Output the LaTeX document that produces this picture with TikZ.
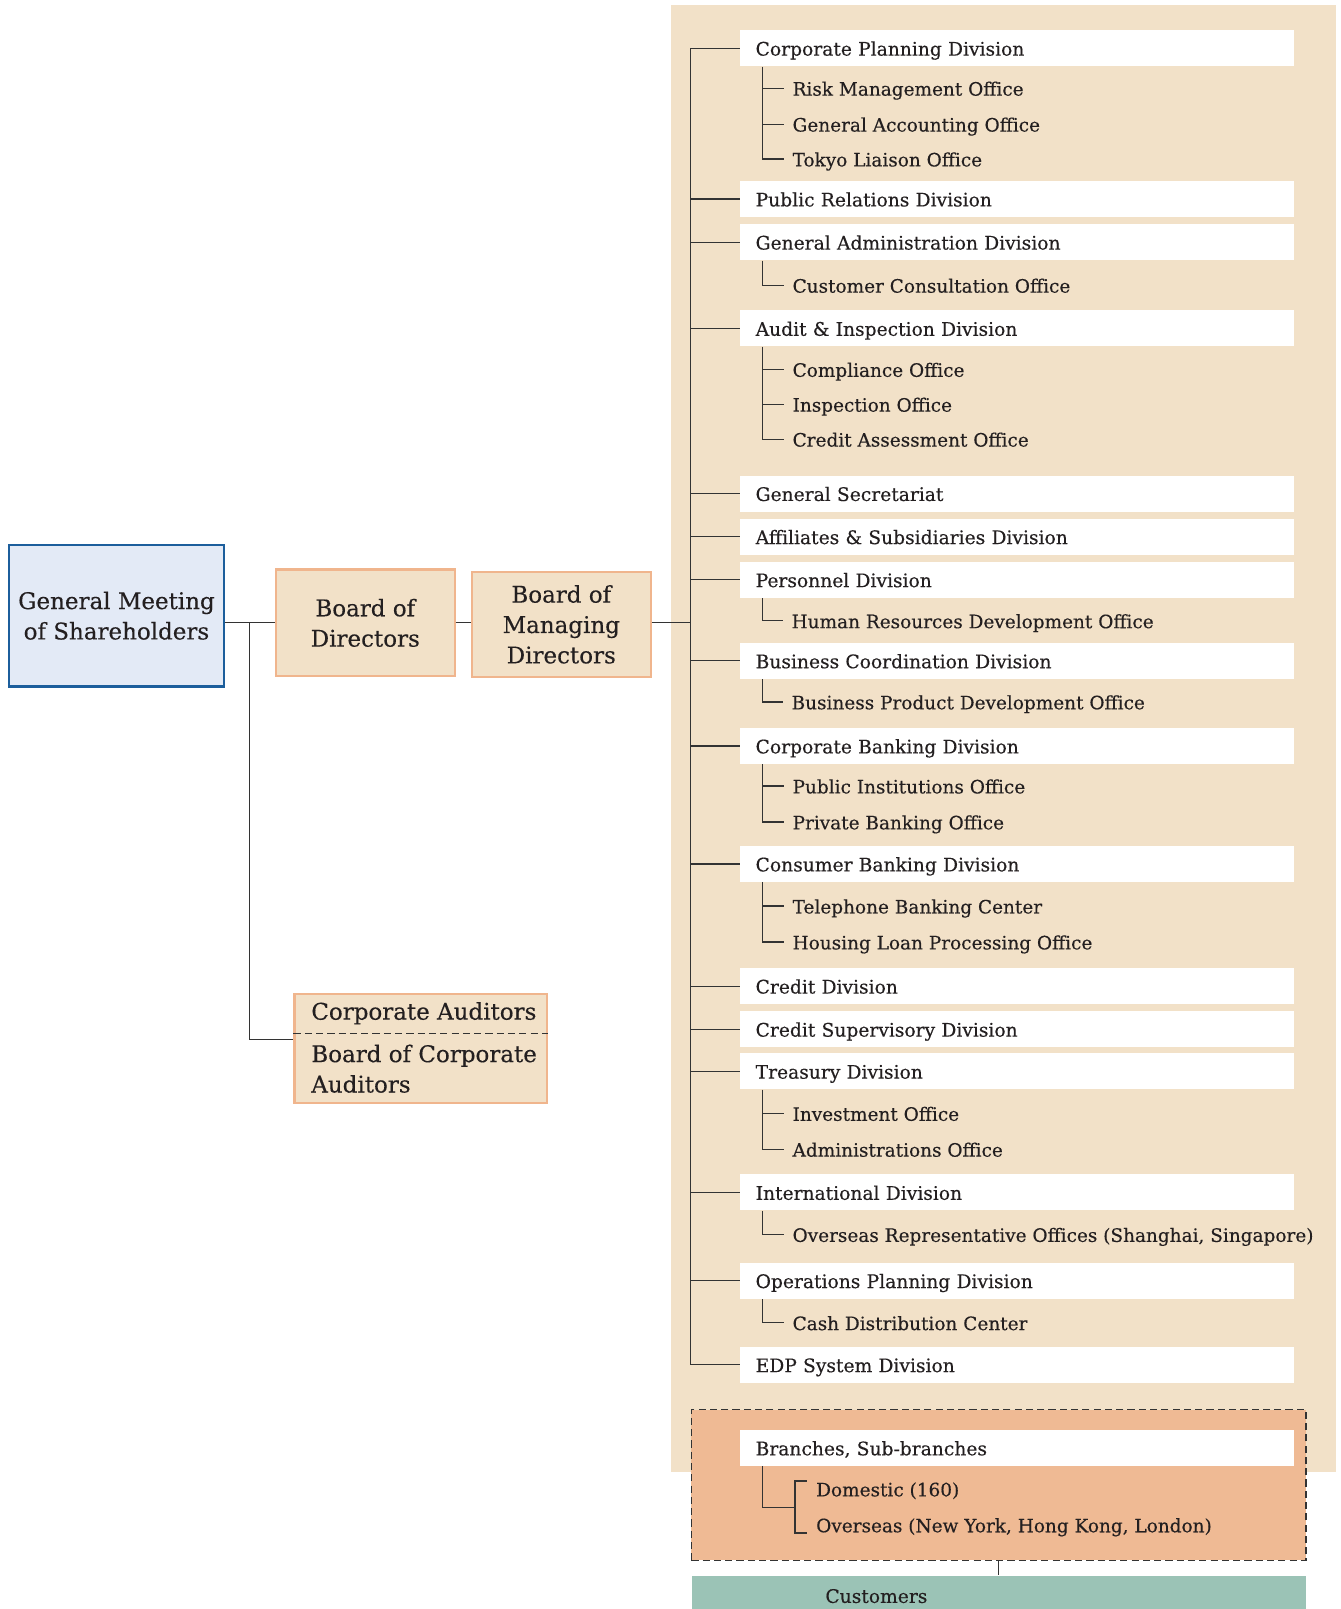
\documentclass[tikz,border=0pt]{standalone}
\usepackage{fontspec}
\setmainfont{DejaVu Serif}[FakeBold=0.3]
\newcommand\dsz{\fontsize{9.1pt}{11pt}\selectfont}
\newcommand\ssz{\fontsize{9.0pt}{11pt}\selectfont}
\newcommand\bsz{\fontsize{11.2pt}{14.8pt}\selectfont}
\definecolor{beige}{HTML}{F2E1C8}
\definecolor{salm}{HTML}{F0B58D}
\definecolor{orng}{HTML}{EFBA94}
\definecolor{gmfill}{HTML}{E3EAF6}
\definecolor{gmline}{HTML}{1C5E9C}
\definecolor{teal}{HTML}{9BC3B6}
\definecolor{ln}{HTML}{333333}
\definecolor{txt}{HTML}{231F20}
\tikzset{
  div/.style={anchor=west, fill=white, minimum height=17.5pt, text width=255pt,
    inner xsep=7.5pt, inner ysep=0pt, align=left, font=\dsz, text=txt,
    text height=0.86em, text depth=0.14em},
  sub/.style={anchor=west, inner xsep=4pt, inner ysep=1pt, font=\ssz, text=txt,
    text height=0.86em, text depth=0.14em},
  bigbox/.style={draw=salm, line width=1pt, fill=beige, font=\bsz, text=txt, align=center},
  conn/.style={draw=ln, line width=0.6pt},
}
\begin{document}
\begin{tikzpicture}[x=0.5pt,y=-0.5pt]
\useasboundingbox (0,0) rectangle (1306,1568);
% background panel
\fill[beige] (654,5) rectangle (1302,1434);

% left boxes
\node[draw=gmline, line width=1pt, fill=gmfill, minimum width=104.5pt, minimum height=69pt,
  font=\bsz, text=txt, align=center, inner sep=0pt] (gm) at (113.5,600) {General Meeting\\of Shareholders};
\node[bigbox, minimum width=87pt, minimum height=52pt, inner sep=0pt] (bod) at (356,607) {Board of\\Directors};
\node[bigbox, minimum width=87pt, minimum height=51.5pt, inner sep=0pt] (bmd) at (547,608.5) {Board of\\Managing\\Directors};
\node[bigbox, minimum width=123pt, minimum height=53pt, inner sep=0pt] (aud) at (410,1022) {};
\draw[ln, line width=0.5pt, dash pattern=on 3.5pt off 2pt] ([yshift=7.5pt]aud.west) -- ([yshift=7.5pt]aud.east);
\node[anchor=west, font=\bsz, text=txt, inner sep=0pt] (audA) at (303,987.5) {Corporate Auditors};
\node[anchor=west, font=\bsz, text=txt, inner sep=0pt, align=left] (audB) at (303,1041.5) {Board of Corporate\\Auditors};

\coordinate (j) at (243,607);
\coordinate (tx) at (673,607);
\coordinate (vx) at (743,0);
\draw[conn] (gm.east |- j) -- (bod.west |- j);
\draw[conn] (bod.east |- j) -- (bmd.west |- j);
\draw[conn] (j) |- ([yshift=4.5pt]aud.west);
\draw[conn] (bmd.east |- tx) -- (tx);

% divisions
\node[div] (d1) at (721,47) {Corporate Planning Division};
\node[div] (d2) at (721,194) {Public Relations Division};
\node[div] (d3) at (721,236) {General Administration Division};
\node[div] (d4) at (721,320) {Audit \& Inspection Division};
\node[div] (d5) at (721,481) {General Secretariat};
\node[div] (d6) at (721,523) {Affiliates \& Subsidiaries Division};
\node[div] (d7) at (721,565) {Personnel Division};
\node[div] (d8) at (721,644) {Business Coordination Division};
\node[div] (d9) at (721,727) {Corporate Banking Division};
\node[div] (d10) at (721,842) {Consumer Banking Division};
\node[div] (d11) at (721,961) {Credit Division};
\node[div] (d12) at (721,1003) {Credit Supervisory Division};
\node[div] (d13) at (721,1044) {Treasury Division};
\node[div] (d14) at (721,1162) {International Division};
\node[div] (d15) at (721,1248) {Operations Planning Division};
\node[div] (d16) at (721,1330) {EDP System Division};

% sub offices
\node[sub] (s1a) at (764,86) {Risk Management Office};
\node[sub] (s1b) at (764,121) {General Accounting Office};
\node[sub] (s1c) at (764,155) {Tokyo Liaison Office};
\node[sub] (s3a) at (764,278) {Customer Consultation Office};
\node[sub] (s4a) at (764,360) {Compliance Office};
\node[sub] (s4b) at (764,394) {Inspection Office};
\node[sub] (s4c) at (764,428) {Credit Assessment Office};
\node[sub] (s7a) at (763,605) {Human Resources Development Office};
\node[sub] (s8a) at (763,684) {Business Product Development Office};
\node[sub] (s9a) at (764,766) {Public Institutions Office};
\node[sub] (s9b) at (764,801) {Private Banking Office};
\node[sub] (s10a) at (764,883) {Telephone Banking Center};
\node[sub] (s10b) at (764,918) {Housing Loan Processing Office};
\node[sub] (s13a) at (764,1085) {Investment Office};
\node[sub] (s13b) at (764,1120) {Administrations Office};
\node[sub] (s14a) at (764,1203) {Overseas Representative Offices (Shanghai, Singapore)};
\node[sub] (s15a) at (764,1289) {Cash Distribution Center};

% trunk
\draw[conn] (d1.west) -- (d1.west -| tx) -- (d16.west -| tx) -- (d16.west);
\foreach \d in {d2,d3,d4,d5,d6,d7,d8,d9,d10,d11,d12,d13,d14,d15}
  \draw[conn] (\d.west) -- (\d.west -| tx);

% sub connectors
\draw[conn] (d1.south west -| vx) |- (s1c.west);
\draw[conn] (s1a.west) -- (s1a.west -| vx);
\draw[conn] (s1b.west) -- (s1b.west -| vx);
\draw[conn] (d3.south west -| vx) |- (s3a.west);
\draw[conn] (d4.south west -| vx) |- (s4c.west);
\draw[conn] (s4a.west) -- (s4a.west -| vx);
\draw[conn] (s4b.west) -- (s4b.west -| vx);
\draw[conn] (d7.south west -| vx) |- (s7a.west);
\draw[conn] (d8.south west -| vx) |- (s8a.west);
\draw[conn] (d9.south west -| vx) |- (s9b.west);
\draw[conn] (s9a.west) -- (s9a.west -| vx);
\draw[conn] (d10.south west -| vx) |- (s10b.west);
\draw[conn] (s10a.west) -- (s10a.west -| vx);
\draw[conn] (d13.south west -| vx) |- (s13b.west);
\draw[conn] (s13a.west) -- (s13a.west -| vx);
\draw[conn] (d14.south west -| vx) |- (s14a.west);
\draw[conn] (d15.south west -| vx) |- (s15a.west);

% branches
\node[draw=ln, line width=0.7pt, dash pattern=on 3.5pt off 2pt, fill=orng, anchor=north west,
  minimum width=299.5pt, minimum height=73.5pt, inner sep=0pt] (brbox) at (673,1373) {};
\node[div] (br) at (721,1411) {Branches, Sub-branches};
\node[sub, inner xsep=4.5pt] (dom) at (786,1451) {Domestic (160)};
\node[sub, inner xsep=4.5pt] (ovs) at (786,1486) {Overseas (New York, Hong Kong, London)};
\coordinate (bk) at (775,1469);
\draw[conn, line width=0.8pt] (br.south west -| vx) |- (bk);
\draw[conn, line width=0.8pt] ([yshift=4pt]dom.west) -| (bk) |- ([yshift=-4pt]ovs.west);

% customers
\node[fill=teal, anchor=north west, minimum width=299pt, minimum height=20pt, text width=169pt,
  inner xsep=65pt, inner ysep=0pt, align=left, font=\dsz, text=txt] (cust) at (674,1535) {Customers};
\draw[conn] (brbox.south) -- (brbox.south |- cust.north);
\end{tikzpicture}
\end{document}
